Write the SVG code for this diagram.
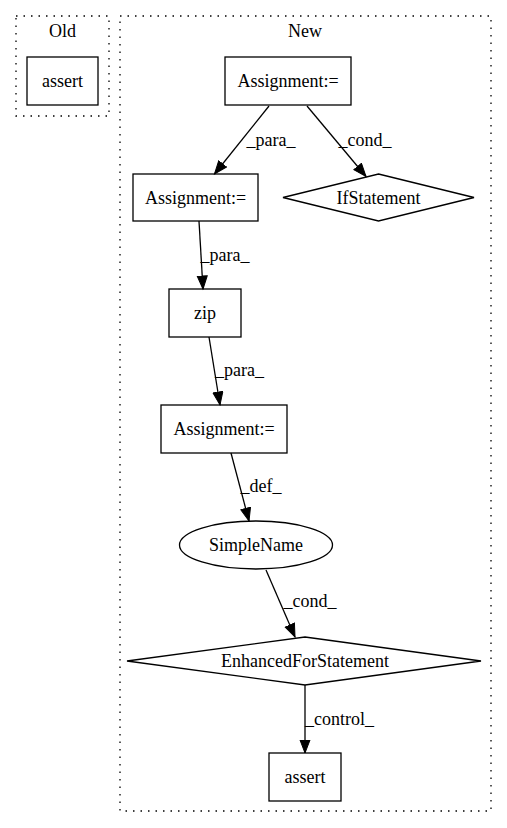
<svg xmlns="http://www.w3.org/2000/svg" width="507" height="828" viewBox="0 0 507 828">
<style>
.t{font-family:'Liberation Serif','Times New Roman',Times,serif;font-size:18px;fill:#000;text-anchor:middle}
.cl{fill:none;stroke:#000;stroke-width:1.3;stroke-dasharray:1.5,6}
.n{fill:#fff;stroke:#000;stroke-width:1.3}
.e{fill:none;stroke:#000;stroke-width:1.3}
</style>
<defs>
<marker id="ah" markerUnits="userSpaceOnUse" markerWidth="15" markerHeight="12" refX="13.5" refY="5.5" orient="auto">
<path d="M0.5,0.5 L13.5,5.5 L0.5,10.5 z" fill="#000" stroke="#000" stroke-width="1"/>
</marker>
</defs>
<rect width="507" height="828" fill="#fff"/>
<g id="cluster_old">
<rect class="cl" x="16" y="16" width="93" height="100"/>
<text class="t" font-family="Liberation Serif, serif" x="62.5" y="36.5">Old</text>
</g>
<g id="cluster_new">
<rect class="cl" x="120" y="16" width="371" height="795"/>
<text class="t" font-family="Liberation Serif, serif" x="305" y="36.5">New</text>
</g>
<g id="old_assert">
<rect class="n" x="27" y="57" width="71" height="48"/>
<text class="t" font-family="Liberation Serif, serif" x="62.5" y="87">assert</text>
</g>
<g id="assign_top">
<rect class="n" x="225" y="57" width="126" height="48"/>
<text class="t" font-family="Liberation Serif, serif" x="288" y="87">Assignment:=</text>
</g>
<g id="assign_2">
<rect class="n" x="133" y="174" width="125" height="47"/>
<text class="t" font-family="Liberation Serif, serif" x="195.5" y="203.5">Assignment:=</text>
</g>
<g id="ifstatement">
<polygon class="n" points="378.5,174 474,197.5 378.5,221 283,197.5"/>
<text class="t" font-family="Liberation Serif, serif" x="378.5" y="203.5">IfStatement</text>
</g>
<g id="zip">
<rect class="n" x="169" y="289" width="72" height="48"/>
<text class="t" font-family="Liberation Serif, serif" x="205" y="319">zip</text>
</g>
<g id="assign_3">
<rect class="n" x="161" y="405" width="126" height="48"/>
<text class="t" font-family="Liberation Serif, serif" x="224" y="435">Assignment:=</text>
</g>
<g id="simplename">
<ellipse class="n" cx="256" cy="545" rx="76.5" ry="24"/>
<text class="t" font-family="Liberation Serif, serif" x="256" y="551">SimpleName</text>
</g>
<g id="enhancedfor">
<polygon class="n" points="305,637 481,661 305,685 127,661"/>
<text class="t" font-family="Liberation Serif, serif" x="305" y="667">EnhancedForStatement</text>
</g>
<g id="new_assert">
<rect class="n" x="269" y="753" width="72" height="48"/>
<text class="t" font-family="Liberation Serif, serif" x="305" y="783">assert</text>
</g>
<g id="edges">
<line class="e" x1="269" y1="106" x2="214.5" y2="174" marker-end="url(#ah)"/>
<text class="t" font-family="Liberation Serif, serif" x="271" y="146">_para_</text>
<line class="e" x1="307" y1="106" x2="366" y2="176.5" marker-end="url(#ah)"/>
<text class="t" font-family="Liberation Serif, serif" x="365" y="146">_cond_</text>
<line class="e" x1="199" y1="221" x2="203" y2="289" marker-end="url(#ah)"/>
<text class="t" font-family="Liberation Serif, serif" x="225" y="261">_para_</text>
<line class="e" x1="209" y1="337" x2="220" y2="405" marker-end="url(#ah)"/>
<text class="t" font-family="Liberation Serif, serif" x="239.5" y="376">_para_</text>
<line class="e" x1="231" y1="453" x2="249" y2="521" marker-end="url(#ah)"/>
<text class="t" font-family="Liberation Serif, serif" x="261" y="492">_def_</text>
<line class="e" x1="266" y1="570" x2="295" y2="637" marker-end="url(#ah)"/>
<text class="t" font-family="Liberation Serif, serif" x="310" y="607">_cond_</text>
<line class="e" x1="305" y1="685" x2="305" y2="753" marker-end="url(#ah)"/>
<text class="t" font-family="Liberation Serif, serif" x="339.5" y="725">_control_</text>
</g>
</svg>
